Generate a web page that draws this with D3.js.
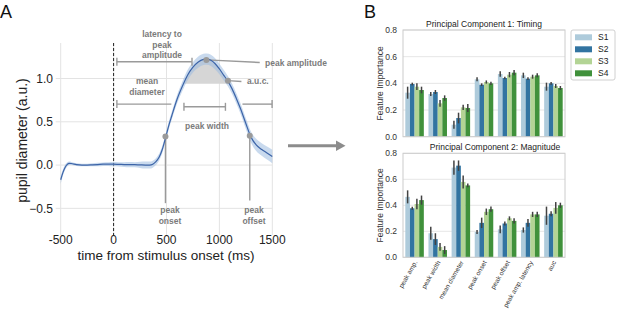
<!DOCTYPE html>
<html>
<head>
<meta charset="utf-8">
<script src="https://cdn.jsdelivr.net/npm/d3@7"></script>
<style>
  body { margin: 0; background: #fff; }
  svg { font-family: "Liberation Sans", Arial, sans-serif; }
</style>
</head>
<body>
<div id="chart"></div>
<script>
// ---- panel A: pupil trace ----
const times = [-500,-480,-460,-440,-420,-400,-350,-300,-250,-200,-150,-100,-50,0,50,100,150,200,250,300,340,370,400,430,460,490,520,550,600,650,700,750,800,850,880,920,960,1000,1040,1080,1120,1160,1200,1250,1300,1350,1400,1450,1500];
const meanDiam = [-0.17,-0.09,-0.03,0.005,0.02,0.018,0.005,0.0,0.0,0.003,0.006,0.01,0.01,0.01,0.008,0.006,0.005,0.004,0.002,0.0,0.0,0.01,0.04,0.09,0.18,0.31,0.45,0.57,0.76,0.91,1.04,1.13,1.19,1.22,1.225,1.21,1.17,1.11,1.04,0.97,0.88,0.77,0.65,0.48,0.32,0.23,0.18,0.14,0.10];
const ciHalf = [0.045,0.035,0.03,0.025,0.02,0.018,0.015,0.015,0.015,0.018,0.02,0.02,0.022,0.025,0.025,0.028,0.03,0.03,0.035,0.04,0.04,0.04,0.04,0.04,0.04,0.04,0.045,0.045,0.05,0.055,0.06,0.06,0.065,0.065,0.065,0.065,0.065,0.06,0.06,0.06,0.06,0.06,0.06,0.062,0.065,0.07,0.072,0.075,0.078];
const xTicksA = [-500, 0, 500, 1000, 1500];
const yTicksA = [-0.5, 0.0, 0.5, 1.0];
const aucLevel = 0.94;

// annotation features (time, value)
const markers = [
  { name: "onset", t: 490, v: 0.33 },
  { name: "peak", t: 877, v: 1.215 },
  { name: "auc", t: 1081, v: 0.975 },
  { name: "offset", t: 1287, v: 0.34 }
];
const brackets = [
  { t0: 31, t1: 741, v: 1.193 },   // latency to peak amplitude
  { t0: 31, t1: 546, v: 0.704, capLeft: true, capRight: false },   // mean diameter (left part)
  { t0: 1218, t1: 1498, v: 0.704, capLeft: false, capRight: true }, // mean diameter (right part)
  { t0: 665, t1: 1057, v: 0.673 }  // peak width
];

// ---- panel B: feature importance ----
const categories = ["peak amp.", "peak width", "mean diameter", "peak onset", "peak offset", "peak amp. latency", "auc"];
const sessions = ["S1", "S2", "S3", "S4"];
const sessionColors = ["#aecbdb", "#3274a1", "#b3d495", "#40913b"];
const pc1Values = [[0.33,0.395,0.375,0.35],[0.32,0.335,0.25,0.29],[0.09,0.14,0.22,0.215],[0.43,0.39,0.41,0.40],[0.47,0.44,0.465,0.48],[0.46,0.435,0.45,0.46],[0.375,0.40,0.38,0.365]];
const pc1Err = [[0.045,0.01,0.025,0.025],[0.015,0.015,0.025,0.02],[0.03,0.04,0.02,0.03],[0.015,0.01,0.012,0.012],[0.02,0.01,0.02,0.02],[0.02,0.01,0.015,0.015],[0.03,0.01,0.015,0.015]];
const pc2Values = [[0.465,0.377,0.41,0.44],[0.185,0.14,0.08,0.056],[0.69,0.705,0.58,0.553],[0.195,0.265,0.35,0.37],[0.215,0.26,0.30,0.28],[0.21,0.265,0.33,0.33],[0.32,0.335,0.38,0.40]];
const pc2Err = [[0.05,0.012,0.04,0.035],[0.05,0.045,0.03,0.03],[0.055,0.04,0.05,0.015],[0.015,0.04,0.025,0.02],[0.03,0.015,0.015,0.02],[0.02,0.03,0.02,0.02],[0.07,0.02,0.045,0.02]];
const yTicksB = [0.0, 0.2, 0.4, 0.6, 0.8];

const W = 617, H = 312;
const svg = d3.select("#chart").append("svg").attr("width", W).attr("height", H);

// ================= Panel A =================
const ax = { left: 60.7, right: 272.3, top: 43, bottom: 230 };
const x = d3.scaleLinear().domain([-500, 1500]).range([ax.left, ax.right]);
const y = d3.scaleLinear().domain([-0.75, 1.41]).range([ax.bottom, ax.top]);
const annoColor = "#9a9a9a";
const annoText = "#7b7b7b";

svg.append("text").attr("x", 0).attr("y", 18).attr("font-size", 18).attr("fill", "#111").text("A");

const gA = svg.append("g");
// grid
gA.selectAll("line.vg").data(xTicksA).enter().append("line")
  .attr("x1", d => x(d)).attr("x2", d => x(d))
  .attr("y1", ax.top).attr("y2", ax.bottom + 5)
  .attr("stroke", "#e3e3e3").attr("stroke-width", 1);
gA.selectAll("line.hg").data(yTicksA).enter().append("line")
  .attr("x1", ax.left - 5).attr("x2", ax.right)
  .attr("y1", d => y(d)).attr("y2", d => y(d))
  .attr("stroke", "#e3e3e3").attr("stroke-width", 1);

// tick labels
gA.selectAll("text.xt").data(xTicksA).enter().append("text")
  .attr("x", d => x(d)).attr("y", 244)
  .attr("text-anchor", "middle").attr("font-size", 12).attr("fill", "#222")
  .text(d => d);
gA.selectAll("text.yt").data(yTicksA).enter().append("text")
  .attr("x", 53).attr("y", d => y(d) + 4.3)
  .attr("text-anchor", "end").attr("font-size", 12).attr("fill", "#222")
  .text(d => d3.format(".1f")(d).replace("-", "\u2212"));

gA.append("text").attr("x", 166).attr("y", 259.5)
  .attr("text-anchor", "middle").attr("font-size", 13.5).attr("fill", "#222")
  .text("time from stimulus onset (ms)");
gA.append("text").attr("transform", `translate(27,${(ax.top + ax.bottom) / 2 + 4}) rotate(-90)`)
  .attr("text-anchor", "middle").attr("font-size", 14).attr("fill", "#222")
  .text("pupil diameter (a.u.)");

// onset dashed line
gA.append("line").attr("x1", x(0)).attr("x2", x(0))
  .attr("y1", ax.top).attr("y2", ax.bottom + 5)
  .attr("stroke", "#222").attr("stroke-width", 1).attr("stroke-dasharray", "3,2");

const trace = times.map((t, i) => ({ t, m: meanDiam[i], ci: ciHalf[i] }));

// auc shading
gA.append("path").datum(trace)
  .attr("d", d3.area().curve(d3.curveMonotoneX)
    .x(d => x(d.t)).y0(y(aucLevel)).y1(d => y(Math.max(d.m, aucLevel))))
  .attr("fill", "#d6d6d6");

// CI band
gA.append("path").datum(trace)
  .attr("d", d3.area().curve(d3.curveMonotoneX)
    .x(d => x(d.t)).y0(d => y(d.m - d.ci)).y1(d => y(d.m + d.ci)))
  .attr("fill", "#9dbbe0").attr("fill-opacity", 0.55);

// brackets
const capH = 4;
brackets.forEach(b => {
  const g = gA.append("g").attr("stroke", annoColor).attr("stroke-width", 1.4);
  g.append("line").attr("x1", x(b.t0)).attr("x2", x(b.t1)).attr("y1", y(b.v)).attr("y2", y(b.v));
  if (b.capLeft !== false)
    g.append("line").attr("x1", x(b.t0)).attr("x2", x(b.t0)).attr("y1", y(b.v) - capH).attr("y2", y(b.v) + capH);
  if (b.capRight !== false)
    g.append("line").attr("x1", x(b.t1)).attr("x2", x(b.t1)).attr("y1", y(b.v) - capH).attr("y2", y(b.v) + capH);
});

// marker leader lines
const mk = Object.fromEntries(markers.map(m => [m.name, m]));
const leaders = [
  { from: mk.peak, t: 1381, v: mk.peak.v - 0.03 },
  { from: mk.auc, t: 1208, v: mk.auc.v - 0.01 },
  { from: mk.onset, t: mk.onset.t, v: -0.44 },
  { from: mk.offset, t: mk.offset.t, v: -0.41 }
];
gA.selectAll("line.lead").data(leaders).enter().append("line")
  .attr("x1", d => x(d.from.t)).attr("y1", d => y(d.from.v))
  .attr("x2", d => x(d.t)).attr("y2", d => y(d.v))
  .attr("stroke", annoColor).attr("stroke-width", 1.4);

// mean line
gA.append("path").datum(trace)
  .attr("d", d3.line().curve(d3.curveMonotoneX).x(d => x(d.t)).y(d => y(d.m)))
  .attr("fill", "none").attr("stroke", "#3c64a8").attr("stroke-width", 1.2);

gA.selectAll("circle.mk").data(markers).enter().append("circle")
  .attr("cx", d => x(d.t)).attr("cy", d => y(d.v)).attr("r", 3)
  .attr("fill", "#9a9a9a");

// annotation labels
const labels = [
  { lines: ["latency to", "peak", "amplitude"], x: 162, y: 37, anchor: "middle" },
  { lines: ["mean", "diameter"], x: 147, y: 84, anchor: "middle" },
  { lines: ["peak width"], x: 207, y: 129, anchor: "middle" },
  { lines: ["peak", "onset"], x: 170, y: 213, anchor: "middle" },
  { lines: ["peak", "offset"], x: 254, y: 213, anchor: "middle" },
  { lines: ["peak amplitude"], x: 265, y: 66, anchor: "start" },
  { lines: ["a.u.c."], x: 247, y: 84, anchor: "start" }
];
labels.forEach(l => {
  const t = gA.append("text").attr("x", l.x).attr("y", l.y)
    .attr("text-anchor", l.anchor).attr("font-size", 8.5).attr("font-weight", "bold")
    .attr("fill", annoText);
  l.lines.forEach((s, i) => t.append("tspan").attr("x", l.x).attr("dy", i ? 10.5 : 0).text(s));
});

// arrow
svg.append("line").attr("x1", 288).attr("x2", 337).attr("y1", 145.7).attr("y2", 145.7)
  .attr("stroke", "#8c8c8c").attr("stroke-width", 3);
svg.append("path").attr("d", "M336,140.5 L345.5,145.7 L336,151 Z").attr("fill", "#8c8c8c");

// ================= Panel B =================
svg.append("text").attr("x", 364).attr("y", 18).attr("font-size", 18).attr("fill", "#111").text("B");

const bx = d3.scaleBand().domain(categories).range([403, 565]).paddingInner(0.2).paddingOuter(0.1);
const bx1 = d3.scaleBand().domain(sessions).range([0, bx.bandwidth()]);
const color = d3.scaleOrdinal().domain(sessions).range(sessionColors);

function barPanel(top, bottom, values, errs, title, titleX, showLabels) {
  const yb = d3.scaleLinear().domain([0, 0.8]).range([bottom, top]);
  const g = svg.append("g");
  g.selectAll("line.grid").data(yTicksB).enter().append("line")
    .attr("x1", 403).attr("x2", 565).attr("y1", d => yb(d)).attr("y2", d => yb(d))
    .attr("stroke", "#e6e6e6");
  g.selectAll("text.yt").data(yTicksB).enter().append("text")
    .attr("x", 397).attr("y", d => yb(d) + 3)
    .attr("text-anchor", "end").attr("font-size", 8.5).attr("fill", "#333")
    .text(d => d3.format(".1f")(d));
  g.append("text").attr("x", titleX).attr("y", top - 3)
    .attr("text-anchor", "middle").attr("font-size", 8.5).attr("fill", "#222").text(title);
  g.append("text").attr("transform", `translate(383,${(top + bottom) / 2}) rotate(-90)`)
    .attr("text-anchor", "middle").attr("font-size", 8.5).attr("fill", "#333")
    .text("Feature Importance");

  const groups = g.selectAll("g.grp").data(categories).enter().append("g")
    .attr("transform", c => `translate(${bx(c)},0)`);
  groups.each(function (c, ci) {
    const rows = sessions.map((s, si) => ({ s, v: values[ci][si], e: errs[ci][si] }));
    const gg = d3.select(this);
    gg.selectAll("rect").data(rows).enter().append("rect")
      .attr("x", d => bx1(d.s)).attr("width", bx1.bandwidth())
      .attr("y", d => yb(d.v)).attr("height", d => yb(0) - yb(d.v))
      .attr("fill", d => color(d.s));
    gg.selectAll("line.err").data(rows).enter().append("line")
      .attr("x1", d => bx1(d.s) + bx1.bandwidth() / 2).attr("x2", d => bx1(d.s) + bx1.bandwidth() / 2)
      .attr("y1", d => yb(d.v - d.e)).attr("y2", d => yb(d.v + d.e))
      .attr("stroke", "#424242").attr("stroke-width", 1.5);
  });

  g.append("rect").attr("x", 403).attr("y", top).attr("width", 162).attr("height", bottom - top)
    .attr("fill", "none").attr("stroke", "#cccccc").attr("stroke-width", 1);

  if (showLabels) {
    g.selectAll("text.xl").data(categories).enter().append("text")
      .attr("transform", c => `translate(${bx(c) + bx.bandwidth() / 2 + 3},${bottom + 5}) rotate(-60)`)
      .attr("text-anchor", "end").attr("font-size", 6.5).attr("fill", "#333")
      .text(c => c);
  }
}

barPanel(30, 136.7, pc1Values, pc1Err, "Principal Component 1: Timing", 484, false);
barPanel(153.3, 257.3, pc2Values, pc2Err, "Principal Component 2: Magnitude", 495, true);

// legend
const lg = svg.append("g");
lg.append("rect").attr("x", 571).attr("y", 30).attr("width", 44).attr("height", 50).attr("rx", 2)
  .attr("fill", "#fff").attr("stroke", "#d0d0d0");
const li = lg.selectAll("g.li").data(sessions).enter().append("g")
  .attr("transform", (d, i) => `translate(575,${37.3 + i * 12})`);
li.append("rect").attr("x", 0).attr("y", -3).attr("width", 17).attr("height", 6).attr("fill", d => color(d));
li.append("text").attr("x", 23).attr("y", 3).attr("font-size", 8.5).attr("fill", "#222").text(d => d);
</script>
</body>
</html>
